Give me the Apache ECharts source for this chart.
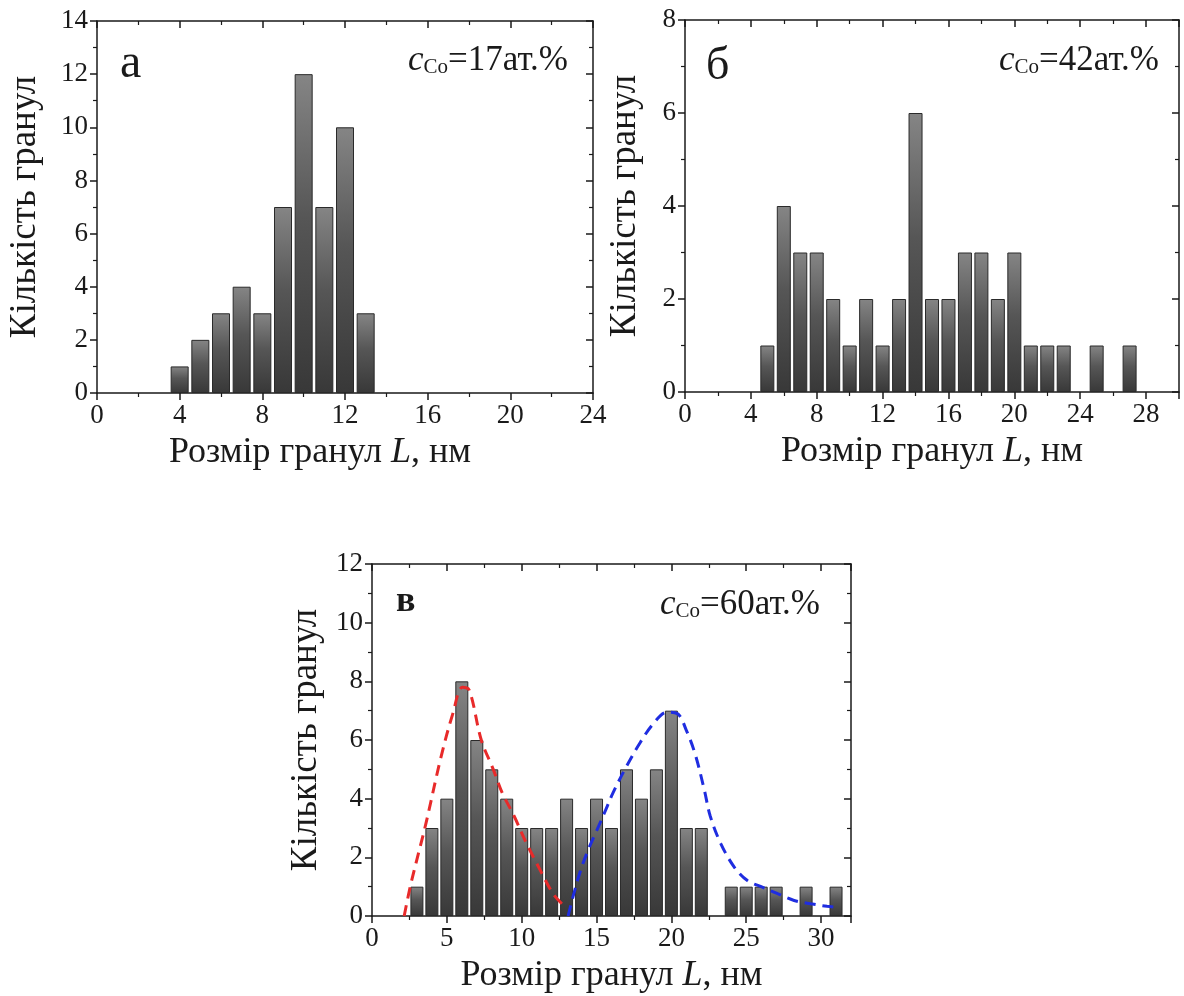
<!DOCTYPE html>
<html>
<head>
<meta charset="utf-8">
<script src="https://cdn.jsdelivr.net/npm/echarts@6/dist/echarts.min.js"></script>
<style>
  html, body { margin: 0; padding: 0; background: #ffffff; }
  #chart { width: 1184px; height: 996px; }
</style>
</head>
<body>
<div id="chart"></div>
<script>
// ---------- data ----------
// panel а (c_Co = 17 ат.%)
const binsA   = [4, 5, 6, 7, 8, 9, 10, 11, 12, 13];
const countsA = [1, 2, 3, 4, 3, 7, 12, 7, 10, 3];
// panel б (c_Co = 42 ат.%)
const binsB   = [5, 6, 7, 8, 9, 10, 11, 12, 13, 14, 15, 16, 17, 18, 19, 20, 21, 22, 23, 25, 27];
const countsB = [1, 4, 3, 3, 2, 1, 2, 1, 2, 6, 2, 2, 3, 3, 2, 3, 1, 1, 1, 1, 1];
// panel в (c_Co = 60 ат.%)
const binsV   = [3, 4, 5, 6, 7, 8, 9, 10, 11, 12, 13, 14, 15, 16, 17, 18, 19, 20, 21, 22, 24, 25, 26, 27, 29, 31];
const countsV = [1, 3, 4, 8, 6, 5, 4, 3, 3, 3, 4, 3, 4, 3, 5, 4, 5, 7, 3, 3, 1, 1, 1, 1, 1, 1];
// fitted curves in panel в
const redX  = [2.15, 2.6, 3.6, 4.6, 5.4, 6.05, 6.5, 7.3, 8.1, 8.7, 9.5, 10.3, 11.2, 12.1, 12.8];
const redY  = [0, 1.1, 3.15, 5.4, 6.9, 7.8, 7.7, 6.0, 5.0, 4.2, 3.4, 2.5, 1.6, 0.76, 0.36];
const blueX = [13.1, 13.4, 13.9, 14.4, 15.0, 15.6, 16.1, 17.0, 17.9, 18.8, 19.7, 20.4, 21.0, 21.6, 22.2, 22.6, 23.3, 24.2, 25.1, 26.0, 27.1, 28.2, 29.3, 30.4, 31.3];
const blueY = [0, 0.6, 1.5, 2.2, 2.9, 3.6, 4.2, 5.1, 5.9, 6.56, 6.95, 6.9, 6.33, 5.5, 4.3, 3.4, 2.47, 1.67, 1.2, 1.0, 0.76, 0.53, 0.42, 0.33, 0.28];

// axis ranges / tick labels
const xRangeA = [0, 24], xStepA = 4, yRangeA = [0, 14], yStepA = 2;
const xRangeB = [0, 30], xStepB = 4, yRangeB = [0, 8],  yStepB = 2;
const xRangeV = [0, 32], xStepV = 5, yRangeV = [0, 12], yStepV = 2;

const yTitle = 'Кількість гранул';
const panelLetters = ['а', 'б', 'в'];
const concentrations = ['17', '42', '60'];

// ---------- styles ----------
const FONT = '"Liberation Serif", "Times New Roman", serif';
const INK = '#1a1a1a';
const lineSt = { color: INK, width: 1.5 };

function mainX(grid, range, step, showMax, shift) {
  return {
    type: 'value', gridIndex: grid, position: 'bottom',
    min: range[0], max: range[1], interval: step,
    axisLine: { show: true, onZero: false, lineStyle: lineSt },
    axisTick: { show: true, inside: false, length: 7, lineStyle: lineSt },
    minorTick: { show: true, splitNumber: 2, length: 4, lineStyle: { color: INK, width: 1.2 } },
    splitLine: { show: false }, minorSplitLine: { show: false },
    axisLabel: { show: true, fontFamily: FONT, fontSize: 27, color: INK, margin: 9, showMaxLabel: showMax, hideOverlap: false },
    name: '{r|Розмір гранул }{i|L}{r|, нм}',
    nameLocation: 'middle', nameGap: 42,
    nameTextStyle: { padding: [0, shift, 0, 0], rich: {
      r: { fontFamily: FONT, fontSize: 36, color: INK },
      i: { fontFamily: FONT, fontSize: 36, color: INK, fontStyle: 'italic' }
    } }
  };
}
function mirrorX(grid, range, step) {
  return {
    type: 'value', gridIndex: grid, position: 'top',
    min: range[0], max: range[1], interval: step,
    axisLine: { show: true, onZero: false, lineStyle: lineSt },
    axisTick: { show: true, inside: true, length: 7, lineStyle: lineSt },
    minorTick: { show: true, splitNumber: 2, length: 4, lineStyle: { color: INK, width: 1.2 } },
    splitLine: { show: false }, minorSplitLine: { show: false },
    axisLabel: { show: false }
  };
}
function mainY(grid, range, step, gap) {
  return {
    type: 'value', gridIndex: grid, position: 'left',
    min: range[0], max: range[1], interval: step,
    axisLine: { show: true, onZero: false, lineStyle: lineSt },
    axisTick: { show: true, inside: false, length: 7, lineStyle: lineSt },
    minorTick: { show: true, splitNumber: 2, length: 4, lineStyle: { color: INK, width: 1.2 } },
    splitLine: { show: false }, minorSplitLine: { show: false },
    axisLabel: { show: true, fontFamily: FONT, fontSize: 27, color: INK, margin: 9, hideOverlap: false },
    name: yTitle, nameLocation: 'middle', nameRotate: 90, nameGap: gap,
    nameTextStyle: { fontFamily: FONT, fontSize: 37, color: INK }
  };
}
function mirrorY(grid, range, step) {
  return {
    type: 'value', gridIndex: grid, position: 'right',
    min: range[0], max: range[1], interval: step,
    axisLine: { show: true, onZero: false, lineStyle: lineSt },
    axisTick: { show: true, inside: true, length: 7, lineStyle: lineSt },
    minorTick: { show: true, splitNumber: 2, length: 4, lineStyle: { color: INK, width: 1.2 } },
    splitLine: { show: false }, minorSplitLine: { show: false },
    axisLabel: { show: false }
  };
}

const barStyle = {
  color: { type: 'linear', x: 0, y: 0, x2: 0, y2: 1,
    colorStops: [
      { offset: 0, color: '#858585' },
      { offset: 0.45, color: '#565656' },
      { offset: 1, color: '#383838' } ] },
  borderColor: '#2a2a2a', borderWidth: 1
};
function barSeries(xi, bins, counts, w) {
  return {
    type: 'bar', xAxisIndex: xi, yAxisIndex: xi, barWidth: w,
    data: bins.map((b, i) => [b, counts[i]]),
    itemStyle: barStyle, silent: true, z: 2
  };
}
function fitSeries(xs, ys, color) {
  return {
    type: 'line', xAxisIndex: 4, yAxisIndex: 4, smooth: 0.35,
    showSymbol: false, symbol: 'none', silent: true, z: 5,
    data: xs.map((x, i) => [x, ys[i]]),
    lineStyle: { color: color, width: 3, type: [11, 7] }
  };
}

function concLabel(x, y, c, size, sub) {
  return {
    type: 'text', x: x, y: y, z: 10,
    style: {
      text: '{c|c}{s|Co}{n|=' + c + 'ат.%}',
      align: 'right', verticalAlign: 'top',
      rich: {
        c: { fontFamily: FONT, fontSize: size, fontStyle: 'italic', fill: INK, lineHeight: 40, verticalAlign: 'bottom' },
        s: { fontFamily: FONT, fontSize: sub, fill: INK, lineHeight: 12, verticalAlign: 'bottom' },
        n: { fontFamily: FONT, fontSize: size, fill: INK, lineHeight: 40, verticalAlign: 'bottom' }
      }
    }
  };
}

const option = {
  backgroundColor: '#ffffff',
  animation: false,
  grid: [
    { left: 97,  top: 21,  width: 496, height: 372, outerBoundsMode: 'none', containLabel: false },
    { left: 685, top: 20,  width: 494, height: 372, outerBoundsMode: 'none', containLabel: false },
    { left: 372, top: 564, width: 479, height: 352, outerBoundsMode: 'none', containLabel: false }
  ],
  xAxis: [
    mainX(0, xRangeA, xStepA, true, 50),  mirrorX(0, xRangeA, xStepA),
    mainX(1, xRangeB, xStepB, false, 0), mirrorX(1, xRangeB, xStepB),
    mainX(2, xRangeV, xStepV, false, 0), mirrorX(2, xRangeV, xStepV)
  ],
  yAxis: [
    mainY(0, yRangeA, yStepA, 53), mirrorY(0, yRangeA, yStepA),
    mainY(1, yRangeB, yStepB, 41), mirrorY(1, yRangeB, yStepB),
    mainY(2, yRangeV, yStepV, 47), mirrorY(2, yRangeV, yStepV)
  ],
  series: [
    barSeries(0, binsA, countsA, 18),
    barSeries(2, binsB, countsB, 14),
    barSeries(4, binsV, countsV, 13),
    fitSeries(redX, redY, '#e82a2a'),
    fitSeries(blueX, blueY, '#1f2de0')
  ],
  graphic: [
    { type: 'text', x: 120, y: 40, z: 10, style: { text: panelLetters[0], fontFamily: FONT, fontSize: 48, fill: INK } },
    { type: 'text', x: 706, y: 44, z: 10, style: { text: panelLetters[1], fontFamily: FONT, fontSize: 46, fill: INK } },
    { type: 'text', x: 396, y: 584, z: 10, style: { text: panelLetters[2], fontFamily: FONT, fontSize: 36, fontWeight: 'bold', fill: INK } },
    concLabel(568, 38, concentrations[0], 35, 21),
    concLabel(1159, 38, concentrations[1], 35, 21),
    concLabel(820, 582, concentrations[2], 35, 21)
  ]
};

const chart = echarts.init(document.getElementById('chart'), null, { renderer: 'canvas' });
chart.setOption(option);
</script>
</body>
</html>
